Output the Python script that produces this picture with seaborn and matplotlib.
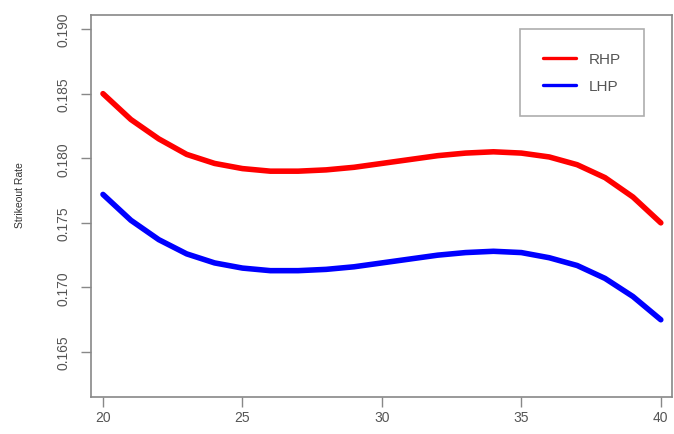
import matplotlib
matplotlib.use("Agg")
import matplotlib.pyplot as plt
import pandas as pd
import seaborn as sns

ages = list(range(20, 41))
rhp = [0.1850, 0.1830, 0.1815, 0.1803, 0.1796, 0.1792, 0.1790, 0.1790, 0.1791,
       0.1793, 0.1796, 0.1799, 0.1802, 0.1804, 0.1805, 0.1804, 0.1801, 0.1795,
       0.1785, 0.1770, 0.1750]
lhp = [0.1772, 0.1752, 0.1737, 0.1726, 0.1719, 0.1715, 0.1713, 0.1713, 0.1714,
       0.1716, 0.1719, 0.1722, 0.1725, 0.1727, 0.1728, 0.1727, 0.1723, 0.1717,
       0.1707, 0.1693, 0.1675]
x_ticks = [20, 25, 30, 35, 40]
y_ticks = [0.165, 0.170, 0.175, 0.180, 0.185, 0.190]

df = pd.DataFrame({
    "age": ages * 2,
    "rate": rhp + lhp,
    "hand": ["RHP"] * len(ages) + ["LHP"] * len(ages),
})

sns.set_style("white")
plt.rcParams["font.family"] = ["Liberation Sans", "DejaVu Sans"]

fig = plt.figure(figsize=(6.74, 4.35), dpi=100)
ax = fig.add_axes([0.135, 0.085, 0.862, 0.878])

sns.lineplot(data=df, x="age", y="rate", hue="hand",
             palette={"RHP": "#ff0000", "LHP": "#0000ff"},
             linewidth=4, ax=ax)

ax.set_xlim(19.57, 40.4)
ax.set_ylim(0.16152, 0.19108)
ax.set_xticks(x_ticks)
ax.set_xticklabels([str(t) for t in x_ticks])
ax.set_yticks(y_ticks)
ax.set_yticklabels([f"{t:.3f}" for t in y_ticks], rotation=90, va="center")
ax.set_xlabel("")
ax.set_ylabel("Strikeout Rate", fontsize=7.5, color="#333333")
ax.yaxis.set_label_coords(-0.113, 0.531)

for s in ax.spines.values():
    s.set_color("#888888")
    s.set_linewidth(1.2)
ax.tick_params(direction="out", length=7, width=1, color="#888888",
               labelcolor="#555555", labelsize=10, left=True, bottom=True)
ax.tick_params(axis="x", pad=2)
ax.tick_params(axis="y", pad=8)

leg = ax.legend(loc="upper right", bbox_to_anchor=(0.951, 0.963),
                fontsize=11, frameon=True, fancybox=False, handlelength=2.2,
                borderpad=1.5, labelspacing=0.85, handletextpad=0.8,
                borderaxespad=0)
leg.get_frame().set_edgecolor("#999999")
leg.get_frame().set_linewidth(1.2)
for t in leg.get_texts():
    t.set_color("#555555")
for l in leg.get_lines():
    l.set_linewidth(2.4)

fig.savefig("out.png", dpi=100)
